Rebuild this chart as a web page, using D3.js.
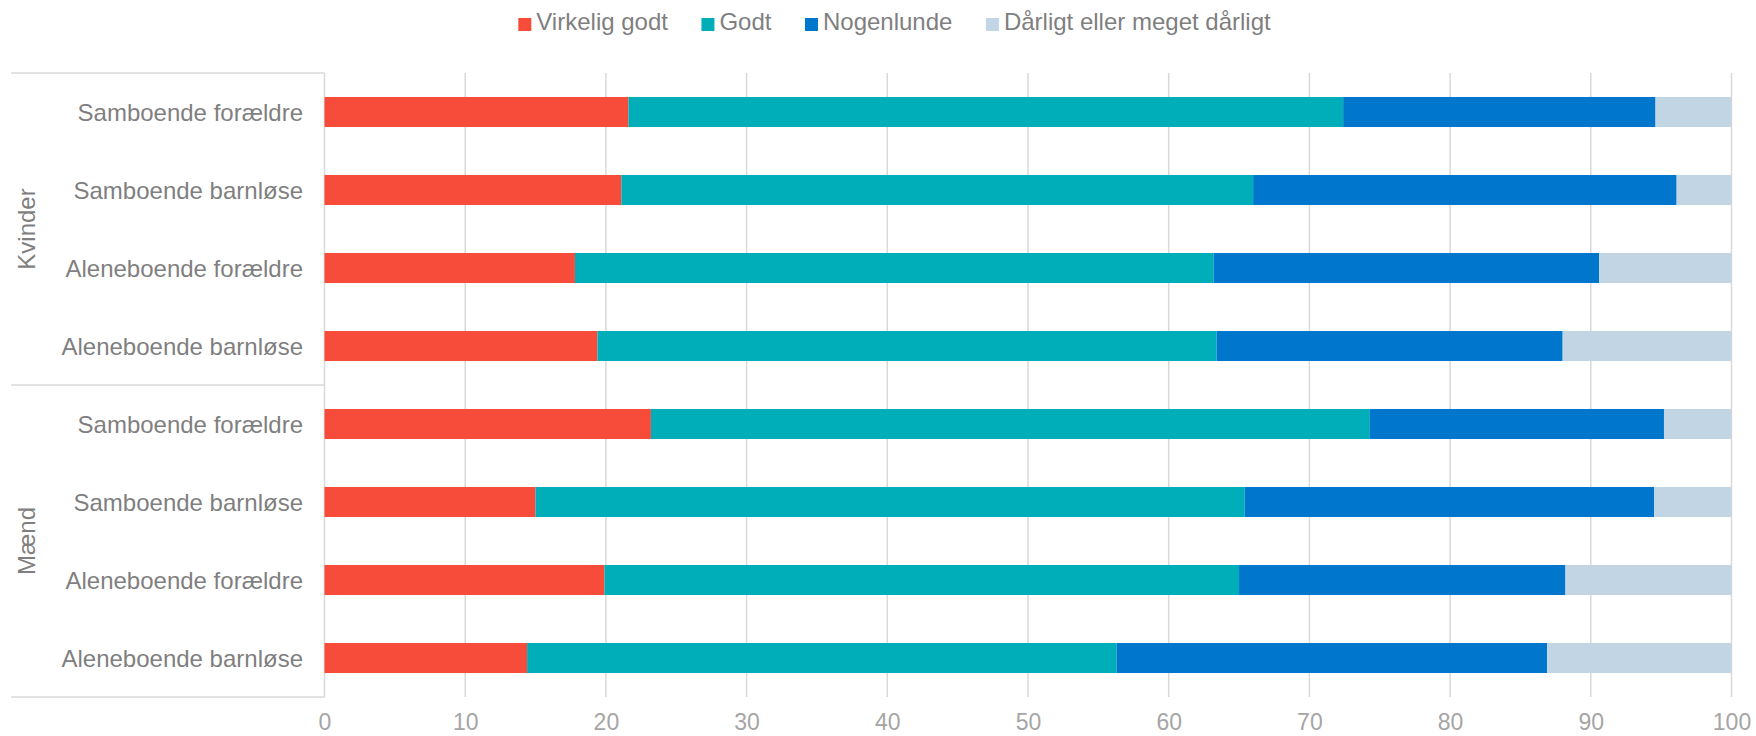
<!DOCTYPE html>
<html>
<head>
<meta charset="utf-8">
<script src="https://cdn.jsdelivr.net/npm/d3@7"></script>
<style>
  html, body { margin: 0; padding: 0; background: #ffffff; }
  svg { display: block; font-family: "Liberation Sans", Arial, sans-serif; }
</style>
</head>
<body>
<svg id="chart" width="1756" height="736"></svg>
<script>
// ---- data ----
const groups = ["Kvinder", "Mænd"];
const categories = ["Samboende forældre", "Samboende barnløse", "Aleneboende forældre", "Aleneboende barnløse"];
const seriesNames = ["Virkelig godt", "Godt", "Nogenlunde", "Dårligt eller meget dårligt"];
const seriesColors = ["#F84C3B", "#00AEB9", "#0076CC", "#C2D5E4"];
// rows: Kvinder (4 categories) then Mænd (4 categories)
const virkeligGodt = [21.6, 21.1, 17.8, 19.4, 23.2, 15.0, 19.9, 14.4];
const godt         = [50.8, 44.9, 45.4, 44.0, 51.1, 50.4, 45.1, 41.9];
const nogenlunde   = [22.2, 30.1, 27.4, 24.6, 20.9, 29.1, 23.2, 30.6];
const daarligt     = [5.4, 3.9, 9.4, 12.0, 4.8, 5.5, 11.8, 13.1];
const xTicks = [0, 10, 20, 30, 40, 50, 60, 70, 80, 90, 100];

(function () {
  // ---- build table ----
  const rows = [];
  groups.forEach((g, gi) => {
    categories.forEach((c, ci) => {
      const i = gi * categories.length + ci;
      rows.push({ key: g + "|" + c, group: g, cat: c,
        values: [virkeligGodt[i], godt[i], nogenlunde[i], daarligt[i]] });
    });
  });

  const svg = d3.select("#chart");
  const pLeft = 324.5, pRight = 1731.5, pTop = 73, pBottom = 697;
  const gridColor = "#D9D9D9";

  const x = d3.scaleLinear().domain([0, 100]).range([pLeft, pRight]);
  const y = d3.scaleBand().domain(rows.map(r => r.key)).range([pTop, pBottom])
    .paddingInner(0.615).paddingOuter(0.3075);

  // gridlines
  svg.append("g").selectAll("line").data(xTicks).join("line")
    .attr("x1", d => x(d)).attr("x2", d => x(d))
    .attr("y1", pTop).attr("y2", pBottom)
    .attr("stroke", gridColor).attr("stroke-width", 1.5);

  // group separator lines in label area
  const groupBounds = [pTop, (pTop + pBottom) / 2, pBottom];
  svg.append("g").selectAll("line").data(groupBounds).join("line")
    .attr("x1", 11).attr("x2", pLeft)
    .attr("y1", d => d).attr("y2", d => d)
    .attr("stroke", gridColor).attr("stroke-width", 1.5);

  // stacked bars
  const stack = d3.stack().keys([0, 1, 2, 3]).value((d, k) => d.values[k]);
  const stacked = stack(rows);
  svg.append("g").selectAll("g").data(stacked).join("g")
    .attr("fill", (d, i) => seriesColors[i])
    .selectAll("rect").data(d => d).join("rect")
    .attr("x", d => x(d[0]))
    .attr("width", d => x(d[1]) - x(d[0]))
    .attr("y", d => y(d.data.key))
    .attr("height", y.bandwidth());

  // x axis
  const xAxis = d3.axisBottom(x).tickValues(xTicks).tickSize(0).tickPadding(0);
  const gx = svg.append("g").attr("transform", `translate(0,${pBottom})`).call(xAxis);
  gx.select(".domain").remove();
  gx.selectAll("text")
    .attr("y", 33).attr("dy", null)
    .attr("fill", "#A5A5A5")
    .style("font-size", "23px")
    .style("font-family", "'Liberation Sans', Arial, sans-serif");

  // category labels
  svg.append("g").selectAll("text").data(rows).join("text")
    .attr("x", 303)
    .attr("y", d => y(d.key) + y.bandwidth() / 2 + 8.5)
    .attr("text-anchor", "end")
    .attr("fill", "#7F7F7F")
    .style("font-size", "24px")
    .text(d => d.cat);

  // group labels (rotated)
  groups.forEach((g, gi) => {
    const cy = (groupBounds[gi] + groupBounds[gi + 1]) / 2;
    svg.append("text")
      .attr("transform", `translate(35,${cy}) rotate(-90)`)
      .attr("text-anchor", "middle")
      .attr("fill", "#7F7F7F")
      .style("font-size", "24px")
      .text(g);
  });

  // legend
  const legend = svg.append("g");
  let lx = 518.3;
  seriesNames.forEach((name, i) => {
    legend.append("rect")
      .attr("x", lx).attr("y", 18)
      .attr("width", 13).attr("height", 13)
      .attr("fill", seriesColors[i]);
    const t = legend.append("text")
      .attr("x", lx + 18).attr("y", 30)
      .attr("fill", "#7F7F7F")
      .style("font-size", "24px")
      .text(name);
    const w = t.node().getComputedTextLength();
    lx = lx + 18 + w + 33.5;
  });
})();
</script>
</body>
</html>
